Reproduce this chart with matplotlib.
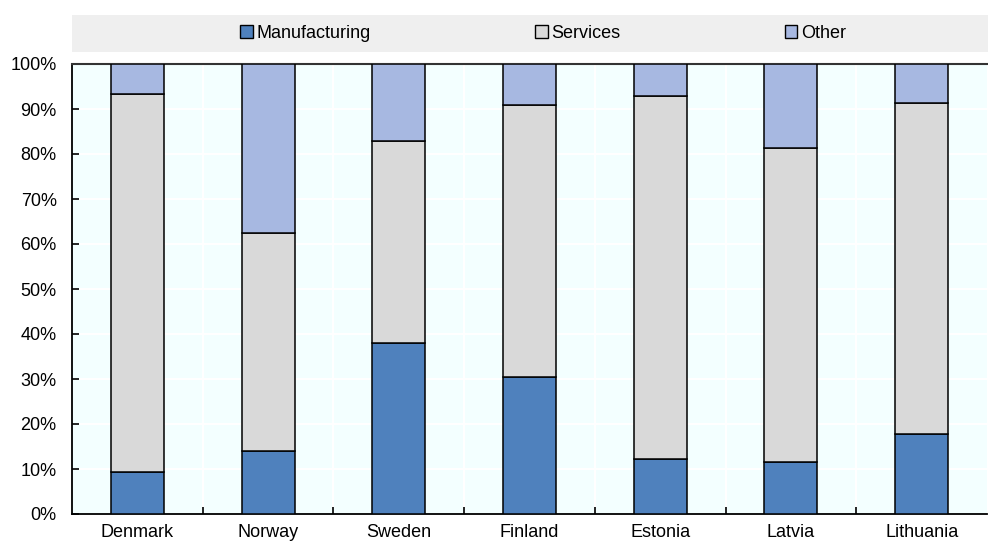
import matplotlib
matplotlib.use("Agg")
import matplotlib.pyplot as plt
from matplotlib.patches import Rectangle, Patch
from matplotlib import font_manager
import numpy as np

countries = ["Denmark", "Norway", "Sweden", "Finland", "Estonia", "Latvia", "Lithuania"]
manufacturing = [9.4, 14.0, 38.0, 30.4, 12.2, 11.5, 17.8]
services = [83.9, 48.4, 45.0, 60.6, 80.6, 69.8, 73.5]
other = [6.7, 37.6, 17.0, 9.0, 7.2, 18.7, 8.7]
series_names = ["Manufacturing", "Services", "Other"]
yticks = [0, 10, 20, 30, 40, 50, 60, 70, 80, 90, 100]

colors = ["#4f81bd", "#d9d9d9", "#a7b8e1"]

names = {f.name for f in font_manager.fontManager.ttflist}
fam = "Liberation Sans Narrow" if "Liberation Sans Narrow" in names else "Liberation Sans"
plt.rcParams["font.family"] = [fam, "DejaVu Sans"]
fs = 13

W, H = 988, 543
fig = plt.figure(figsize=(W / 100, H / 100), dpi=100)
ax = fig.add_axes([72 / W, 1 - 514 / H, (987 - 72) / W, (514 - 64) / H])
ax.set_facecolor("#f3ffff")

x = np.arange(len(countries))
bw = 0.405
bottom = np.zeros(len(countries))
for vals, c in zip([manufacturing, services, other], colors):
    ax.bar(x, vals, bw, bottom=bottom, color=c, edgecolor="black", linewidth=1.1, zorder=3)
    bottom += np.array(vals)

ax.set_xlim(-0.5, len(countries) - 0.5)
ax.set_ylim(0, 100)
ax.set_yticks(yticks)
ax.set_yticklabels([f"{v}%" for v in yticks], fontsize=fs)
ax.set_xticks(x)
ax.set_xticklabels(countries, fontsize=fs)
ax.tick_params(axis="x", length=0, pad=7)
ax.tick_params(axis="y", direction="in", length=5, width=1.2, pad=11)
ax.set_xticks(np.arange(0.5, len(countries) - 0.5, 1), minor=True)
ax.tick_params(axis="x", which="minor", direction="in", length=5, width=1.2)
for b in np.arange(0.5, len(countries) - 0.5, 1):
    ax.axvline(b, color="white", lw=1.5, zorder=1)
for v in yticks[1:-1]:
    ax.axhline(v, color="white", lw=1.5, zorder=1)

ax.spines["right"].set_visible(False)
ax.spines["top"].set_color("#333333")
ax.spines["top"].set_linewidth(1.5)
ax.spines["left"].set_linewidth(1.3)
ax.spines["bottom"].set_linewidth(1.3)

# legend band
fig.patches.append(Rectangle((72 / W, 1 - 52 / H), (988 - 72) / W, 37 / H,
                             transform=fig.transFigure, facecolor="#efefef", edgecolor="none", zorder=0))
handles = [Patch(facecolor=c, edgecolor="black", linewidth=1.0) for c in colors]
fig.legend(handles, series_names, loc="center", bbox_to_anchor=(543 / W, 1 - 33.5 / H),
           ncol=3, frameon=False, fontsize=fs, handlelength=0.7, handleheight=0.7,
           handletextpad=0.2, columnspacing=9.1, borderaxespad=0)

fig.savefig("out.png", dpi=100)
